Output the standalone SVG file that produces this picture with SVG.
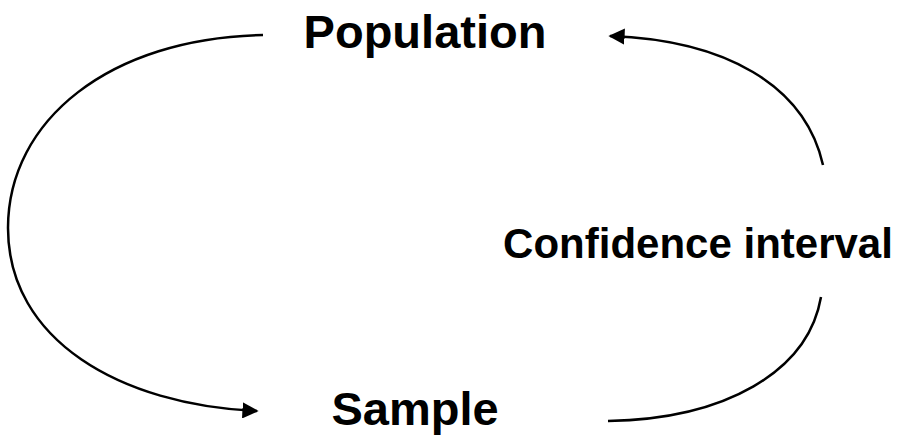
<svg xmlns="http://www.w3.org/2000/svg" width="903" height="435" viewBox="0 0 903 435">
<style>
.lbl{font-family:"Liberation Sans",Arial,sans-serif;font-weight:bold;fill:#000}
.c{fill:none;stroke:#000;stroke-width:2.5}
</style>
<defs>
<marker id="ah" viewBox="0 0 10 10" refX="9" refY="5" markerWidth="6.5" markerHeight="6.5" markerUnits="strokeWidth" orient="auto">
<path d="M0,0 L10,5 L0,10 z" fill="#000"/>
</marker>
</defs>
<rect width="903" height="435" fill="#fff"/>
<g id="connectors">
<path class="c" d="M263,35 C110,38 8,120 8,228 C8,340 120,405 257,411" marker-end="url(#ah)"/>
<path class="c" d="M823,165 C805,85 725,40 610,36" marker-end="url(#ah)"/>
<path class="c" d="M821,297 C808,372 725,419 608,421"/>
</g>
<g id="population"><text class="lbl" x="425" y="48" font-size="47" text-anchor="middle">Population</text></g>
<g id="sample"><text class="lbl" x="415" y="425" font-size="47" text-anchor="middle">Sample</text></g>
<g id="ci"><text class="lbl" x="698" y="258" font-size="42" text-anchor="middle">Confidence interval</text></g>
</svg>
